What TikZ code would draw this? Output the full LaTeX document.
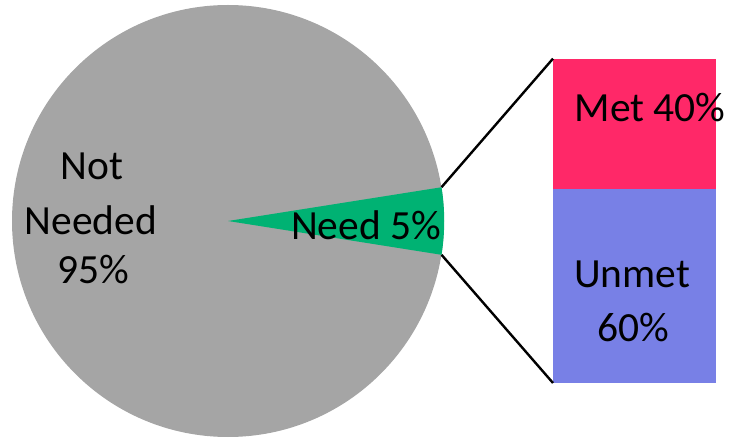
\documentclass[tikz,border=0pt]{standalone}
\usepackage{fontspec}
\setmainfont{Carlito}
\definecolor{piegray}{RGB}{165,165,165}
\definecolor{needgreen}{RGB}{0,178,115}
\definecolor{metred}{RGB}{255,40,104}
\definecolor{unmetblue}{RGB}{120,128,230}
\begin{document}
\begin{tikzpicture}[x=1pt,y=1pt,
  lbl/.style={anchor=base,inner sep=0pt,font=\fontsize{41.5}{49}\selectfont},
  barbox/.style={anchor=south west,inner sep=0pt,minimum width=163pt,draw=none},
  conn/.style={line width=2.4pt,black}]
\useasboundingbox (0,0) rectangle (730,439);
\node[circle,fill=piegray,minimum size=432pt,inner sep=0pt] (pie) at (228,218) {};
\fill[needgreen] (pie.center) -- (pie.-9) arc[start angle=-9,end angle=9,radius=216pt] -- cycle;
\node[barbox,fill=unmetblue,minimum height=194pt] (unmet) at (553,56) {};
\node[barbox,fill=metred,minimum height=130pt] (met) at (553,250) {};
\draw[conn] (pie.9) -- (met.north west);
\draw[conn] (pie.-9) -- (unmet.south west);
\node[lbl] (t1) at (92,259) {Not};
\node[lbl] (t2) at (91,204) {Needed};
\node[lbl] (t3) at (93,155) {95\%};
\node[lbl] (t4) at (366,199) {Need 5\%};
\node[lbl] (t5) at (650,317) {Met 40\%};
\node[lbl] (t6) at (632,151) {Unmet};
\node[lbl] (t7) at (633,97) {60\%};
\end{tikzpicture}
\end{document}
